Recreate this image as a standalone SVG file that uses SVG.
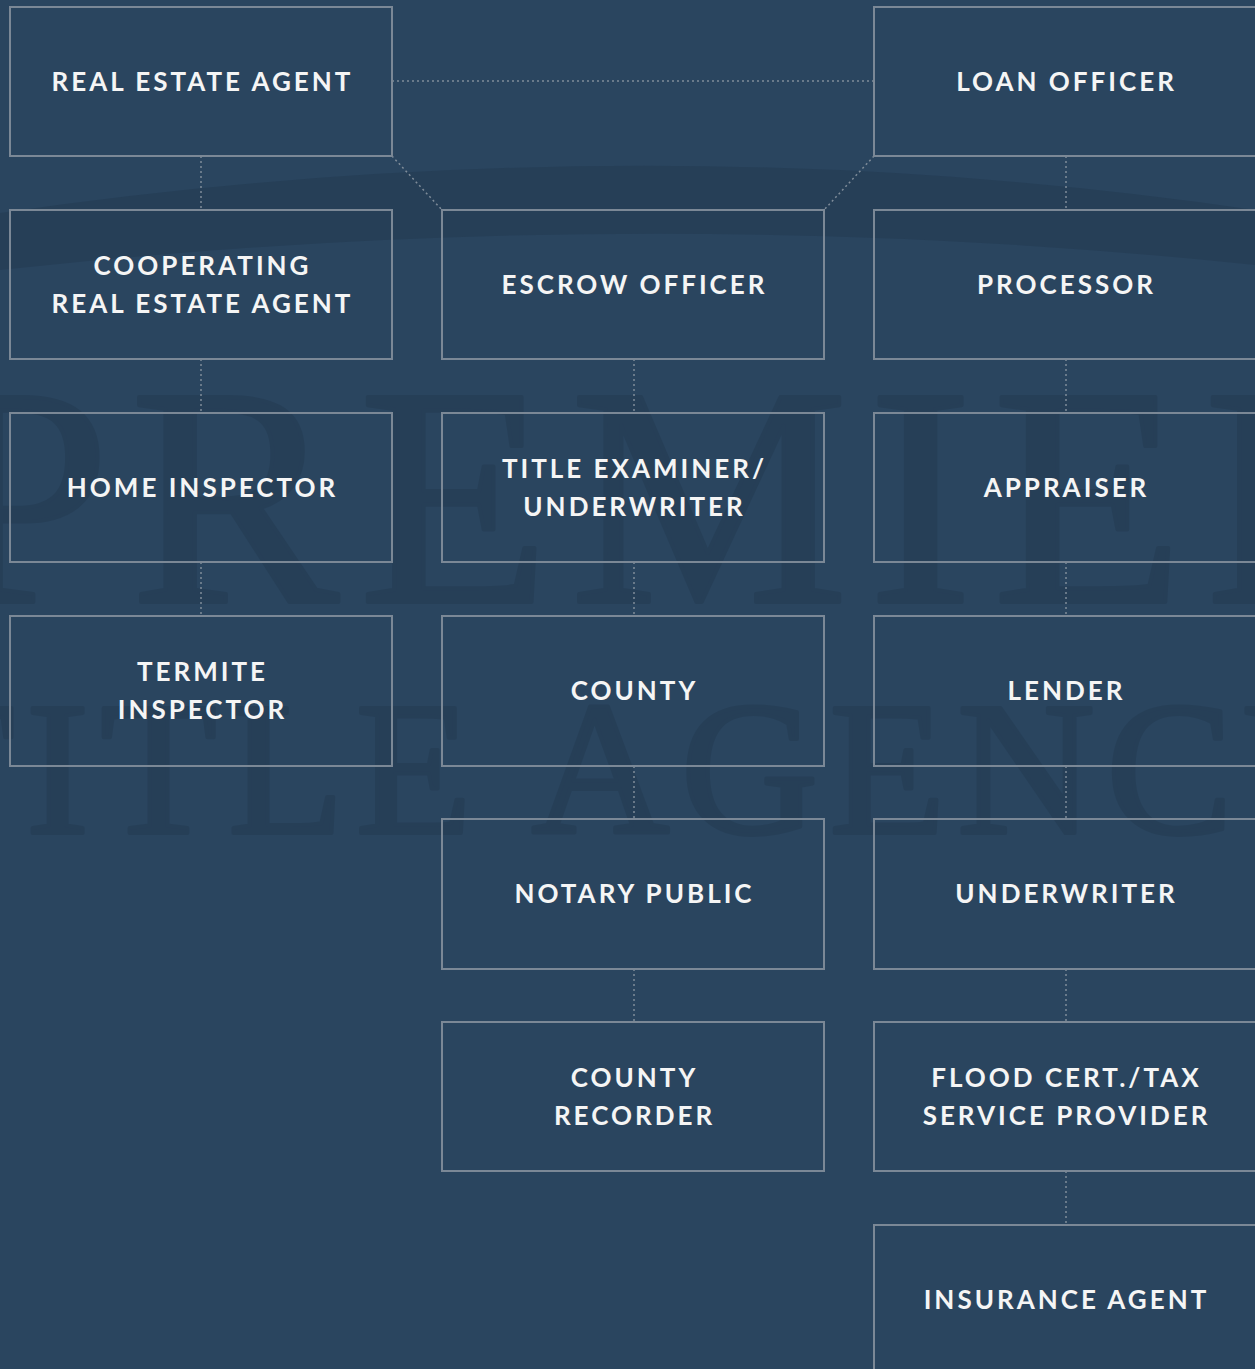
<svg xmlns="http://www.w3.org/2000/svg" width="1255" height="1369" viewBox="0 0 1255 1369">
<style>
.box{fill:none;stroke:#7b8896;stroke-width:2}
.lbl{font-family:Lato,"Open Sans",sans-serif;font-weight:700;font-size:26px;letter-spacing:3px;fill:#f5f5f5;text-anchor:middle}
.con{stroke:#7f8c99;stroke-width:1.5;stroke-dasharray:2 3;fill:none}
.wm{font-family:"Liberation Serif",serif;font-weight:400;fill:#1f3247;stroke:#1f3247;stroke-width:4;stroke-linejoin:round}
</style>
<rect x="0" y="0" width="1255" height="1369" fill="#2a455f"/>
<g id="watermark" opacity="0.3">
<path d="M0,213 Q640,120 1255,210 L1255,265 Q640,200 0,270 Z" fill="#1f3247"/>
<text class="wm" x="-64" y="602" font-size="313" letter-spacing="20">PREMIER</text>
<text class="wm" x="-102" y="833" font-size="191" letter-spacing="11">TITLE AGENCY</text>
</g>
<g id="connectors">
<line class="con" x1="392" y1="81" x2="874" y2="81"/>
<line class="con" x1="392" y1="156" x2="442" y2="210"/>
<line class="con" x1="874" y1="156" x2="824" y2="210"/>
<line class="con" x1="201" y1="156" x2="201" y2="210"/>
<line class="con" x1="201" y1="359" x2="201" y2="413"/>
<line class="con" x1="201" y1="562" x2="201" y2="616"/>
<line class="con" x1="634" y1="359" x2="634" y2="413"/>
<line class="con" x1="634" y1="562" x2="634" y2="616"/>
<line class="con" x1="634" y1="766" x2="634" y2="819"/>
<line class="con" x1="634" y1="969" x2="634" y2="1022"/>
<line class="con" x1="1066" y1="156" x2="1066" y2="210"/>
<line class="con" x1="1066" y1="359" x2="1066" y2="413"/>
<line class="con" x1="1066" y1="562" x2="1066" y2="616"/>
<line class="con" x1="1066" y1="766" x2="1066" y2="819"/>
<line class="con" x1="1066" y1="969" x2="1066" y2="1022"/>
<line class="con" x1="1066" y1="1171" x2="1066" y2="1225"/>
</g>
<g id="real-estate-agent"><rect class="box" x="10" y="7" width="382" height="149"/><text class="lbl" x="202.5" y="91">REAL ESTATE AGENT</text></g>
<g id="cooperating-agent"><rect class="box" x="10" y="210" width="382" height="149"/><text class="lbl" x="202.5" y="275">COOPERATING</text><text class="lbl" x="202.5" y="313">REAL ESTATE AGENT</text></g>
<g id="home-inspector"><rect class="box" x="10" y="413" width="382" height="149"/><text class="lbl" x="202.5" y="497">HOME INSPECTOR</text></g>
<g id="termite-inspector"><rect class="box" x="10" y="616" width="382" height="150"/><text class="lbl" x="202.5" y="681">TERMITE</text><text class="lbl" x="202.5" y="719">INSPECTOR</text></g>
<g id="escrow-officer"><rect class="box" x="442" y="210" width="382" height="149"/><text class="lbl" x="634.5" y="294">ESCROW OFFICER</text></g>
<g id="title-examiner"><rect class="box" x="442" y="413" width="382" height="149"/><text class="lbl" x="634.5" y="478">TITLE EXAMINER/</text><text class="lbl" x="634.5" y="516">UNDERWRITER</text></g>
<g id="county"><rect class="box" x="442" y="616" width="382" height="150"/><text class="lbl" x="634.5" y="700">COUNTY</text></g>
<g id="notary-public"><rect class="box" x="442" y="819" width="382" height="150"/><text class="lbl" x="634.5" y="903">NOTARY PUBLIC</text></g>
<g id="county-recorder"><rect class="box" x="442" y="1022" width="382" height="149"/><text class="lbl" x="634.5" y="1087">COUNTY</text><text class="lbl" x="634.5" y="1125">RECORDER</text></g>
<g id="loan-officer"><rect class="box" x="874" y="7" width="390" height="149"/><text class="lbl" x="1066.5" y="91">LOAN OFFICER</text></g>
<g id="processor"><rect class="box" x="874" y="210" width="390" height="149"/><text class="lbl" x="1066.5" y="294">PROCESSOR</text></g>
<g id="appraiser"><rect class="box" x="874" y="413" width="390" height="149"/><text class="lbl" x="1066.5" y="497">APPRAISER</text></g>
<g id="lender"><rect class="box" x="874" y="616" width="390" height="150"/><text class="lbl" x="1066.5" y="700">LENDER</text></g>
<g id="underwriter"><rect class="box" x="874" y="819" width="390" height="150"/><text class="lbl" x="1066.5" y="903">UNDERWRITER</text></g>
<g id="flood-cert"><rect class="box" x="874" y="1022" width="390" height="149"/><text class="lbl" x="1066.5" y="1087">FLOOD CERT./TAX</text><text class="lbl" x="1066.5" y="1125">SERVICE PROVIDER</text></g>
<g id="insurance-agent"><rect class="box" x="874" y="1225" width="390" height="160"/><text class="lbl" x="1066.5" y="1309">INSURANCE AGENT</text></g>
</svg>
